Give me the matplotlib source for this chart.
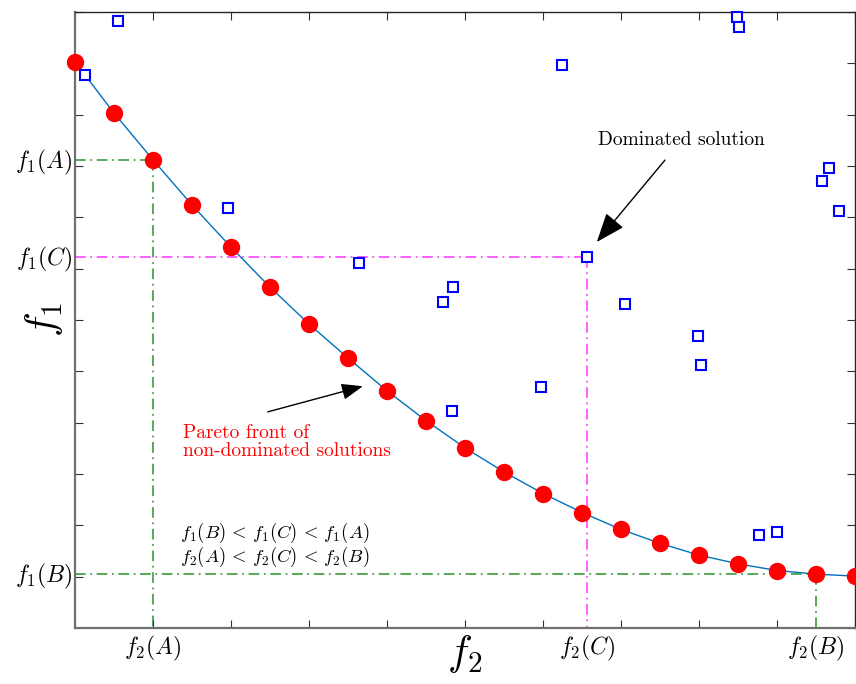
import matplotlib
matplotlib.use('Agg')
import matplotlib.pyplot as plt

plt.rcParams['mathtext.fontset'] = 'cm'
plt.rcParams['font.family'] = 'cmr10'
plt.rcParams['axes.unicode_minus'] = False

# pareto front (non-dominated)
pareto_f2 = [0.0, 0.5, 1.0, 1.5, 2.0, 2.5, 3.0, 3.5, 4.0, 4.5, 5.0,
             5.5, 6.0, 6.5, 7.0, 7.5, 8.0, 8.5, 9.0, 9.5, 10.0]
pareto_f1 = [11.03, 10.03, 9.12, 8.24, 7.42, 6.64, 5.92, 5.26, 4.62, 4.04, 3.51,
             3.04, 2.62, 2.25, 1.92, 1.65, 1.42, 1.25, 1.12, 1.05, 1.01]

# dominated solutions
dom_f2 = [0.55, 0.13, 1.96, 3.64, 4.72, 4.85, 6.24, 6.56, 7.05, 5.97,
          4.83, 7.99, 8.03, 8.49, 8.51, 9.58, 9.67, 9.79, 8.77, 9.00]
dom_f1 = [11.83, 10.77, 8.18, 7.11, 6.35, 6.64, 10.97, 7.23, 6.31, 4.70,
          4.23, 5.69, 5.12, 11.90, 11.71, 8.71, 8.96, 8.12, 1.81, 1.87]

# named points A, B, C (f2, f1)
pt_A = (1.0, 9.12)
pt_C = (6.56, 7.23)
pt_B = (9.5, 1.05)

green = '#2a922a'
magenta = '#ff33ff'
dashdot = (0, (7, 3, 1.2, 3))

fig = plt.figure(figsize=(8.56, 6.84), dpi=100)
ax = fig.add_axes([75/856, 56/684, 780/856, 616/684])

# guide lines
for pt, c in [(pt_A, green), (pt_B, green), (pt_C, magenta)]:
    ax.plot([0, pt[0]], [pt[1], pt[1]], color=c, lw=1.1, ls=dashdot, zorder=1)
    ax.plot([pt[0], pt[0]], [pt[1], 0], color=c, lw=1.1, ls=dashdot, zorder=1)

ax.plot(pareto_f2, pareto_f1, color='#0072BD', lw=1.0, zorder=2, clip_on=False)
ax.plot(pareto_f2, pareto_f1, 'o', color='red', ms=11.5, mec='red', zorder=3, clip_on=False)
ax.plot(dom_f2, dom_f1, 's', mfc='white', mec='blue', mew=1.5, ms=7.5, ls='none',
        zorder=3, clip_on=False)

ax.set_xlim(0, 10)
ax.set_ylim(0, 12)
ax.set_xticks(range(0, 11))
ax.set_yticks(range(0, 13))
ax.set_xticklabels([])
ax.set_yticklabels([])
ax.tick_params(direction='in', length=6, width=0.8, top=True, right=True, colors='#333333')

for s in ['left', 'bottom']:
    ax.spines[s].set_color('#707070')
    ax.spines[s].set_linewidth(1.6)
for s in ['top', 'right']:
    ax.spines[s].set_color('#262626')
    ax.spines[s].set_linewidth(1.0)

# point labels on the axes
ylabs = [(pt_A[1], '$f_1(A)$'), (pt_C[1], '$f_1(C)$'), (pt_B[1], '$f_1(B)$')]
for y, s in ylabs:
    ax.annotate(s, xy=(0, y), xycoords=('axes fraction', 'data'), xytext=(-2, -2),
                textcoords='offset points', ha='right', va='center', fontsize=17)
xlabs = [(pt_A[0], '$f_2(A)$'), (pt_C[0], '$f_2(C)$'), (pt_B[0], '$f_2(B)$')]
for x, s in xlabs:
    ax.annotate(s, xy=(x, 0), xycoords=('data', 'axes fraction'), xytext=(0, -4),
                textcoords='offset points', ha='center', va='top', fontsize=17)

ax.set_xlabel('$f_2$', fontsize=30, labelpad=0)
ax.set_ylabel('$f_1$', fontsize=30, labelpad=4)

# annotations
arrow = '-|>,head_length=1.3,head_width=0.5'
ax.annotate('Dominated solution', xy=(6.69, 7.52), xytext=(7.78, 9.51),
            ha='center', va='center', fontsize=14,
            arrowprops=dict(arrowstyle=arrow, color='black', lw=1.0,
                            shrinkA=8, shrinkB=0))
ax.annotate('', xy=(3.69, 4.71), xytext=(2.47, 4.21),
            arrowprops=dict(arrowstyle=arrow, color='black', lw=1.0,
                            shrinkA=0, shrinkB=0))
ax.text(1.385, 3.62, 'Pareto front of\nnon-dominated solutions', color='red',
        fontsize=14, ha='left', va='center', linespacing=1.05)
ax.text(1.346, 1.62, r'$f_1(B)\, <\, f_1(C)\, <\, f_1(A)$' + '\n' + r'$f_2(A)\, <\, f_2(C)\, <\, f_2(B)$',
        fontsize=13.5, ha='left', va='center', linespacing=1.0)

fig.savefig('out.png', dpi=100)
